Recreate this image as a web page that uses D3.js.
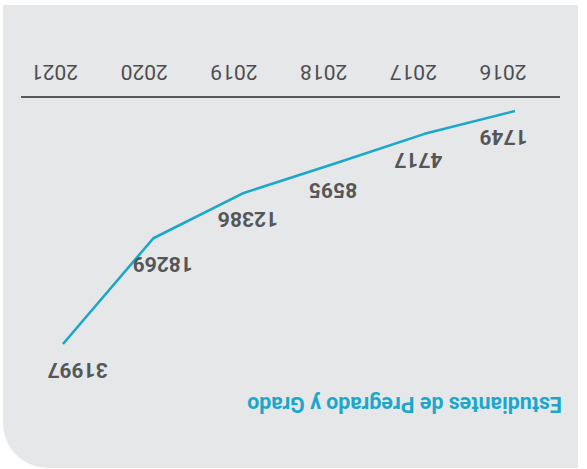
<!DOCTYPE html>
<html>
<head>
<meta charset="utf-8">
<script src="https://cdn.jsdelivr.net/npm/d3@7"></script>
<style>
  html, body { margin: 0; padding: 0; background: #ffffff; }
  svg { display: block; }
  text { font-family: Roboto, "Liberation Sans", sans-serif; }
</style>
</head>
<body>
<svg id="chart" width="587" height="469"></svg>
<script>
// ---- data ----
const years = [2016, 2017, 2018, 2019, 2020, 2021];
const students = [1749, 4717, 8595, 12386, 18269, 31997];
const yearLabels = ["2016", "2017", "2018", "2019", "2020", "2021"];
const title = "Estudiantes de Pregrado y Grado";

const W = 587, H = 469;
const svg = d3.select("#chart");

// The whole picture is shown turned upside down (rotated 180°)
const root = svg.append("g").attr("transform", `rotate(180 ${W / 2} ${H / 2})`);

// panel (in unrotated coordinates): top-right corner rounded
const px0 = 9, px1 = 584, py0 = 1, py1 = 464, r = 45;
root.append("path")
  .attr("d", `M${px0},${py0} H${px1 - r} A${r},${r} 0 0 1 ${px1},${py0 + r} V${py1} H${px0} Z`)
  .attr("fill", "#e6e7e9");

// scales
const xAxisScale = d3.scalePoint().domain(years).range([83.5, 532]);
const xLine = d3.scalePoint().domain(years).range([72, 524]);
const xLabel = d3.scalePoint().domain(years).range([83.5, 509.5]);
const y = d3.scaleLinear().domain([1749, 31997]).range([358, 125]);

// axis
const axisG = root.append("g").attr("transform", "translate(0,372)");
const axis = d3.axisBottom(xAxisScale).tickSize(0).tickPadding(32)
  .tickFormat((d, i) => yearLabels[i]);
axisG.call(axis);
axisG.select(".domain").remove();
axisG.append("line")
  .attr("x1", 27).attr("x2", 566)
  .attr("stroke", "#58595b").attr("stroke-width", 2.2);
axisG.selectAll(".tick text")
  .attr("font-size", 21)
  .attr("font-family", "Roboto, sans-serif")
  .attr("fill", "#4d4d4f")
  .attr("dy", 0)
  .attr("y", 32);

// line
const pts = years.map((yr, i) => ({ year: yr, v: students[i] }));
root.append("path")
  .datum(pts)
  .attr("fill", "none")
  .attr("stroke", "#1ba7cb")
  .attr("stroke-width", 2.6)
  .attr("stroke-linejoin", "round")
  .attr("d", d3.line().x(d => xLine(d.year)).y(d => y(d.v)));

// value labels
root.selectAll(".val")
  .data(pts)
  .join("text")
  .attr("class", "val")
  .attr("x", d => xLabel(d.year))
  .attr("y", d => y(d.v) - 19)
  .attr("text-anchor", "middle")
  .attr("font-size", 21)
  .attr("font-weight", "bold")
  .attr("fill", "#555658")
  .text(d => d.v);

// title
const t = root.append("text")
  .attr("x", 25)
  .attr("y", 72)
  .attr("font-size", 19)
  .attr("font-weight", "bold")
  .attr("fill", "#1ba7cb")
  .text(title);
const len = t.node().getComputedTextLength();
t.attr("font-size", 19 * 315 / len);
</script>
</body>
</html>
